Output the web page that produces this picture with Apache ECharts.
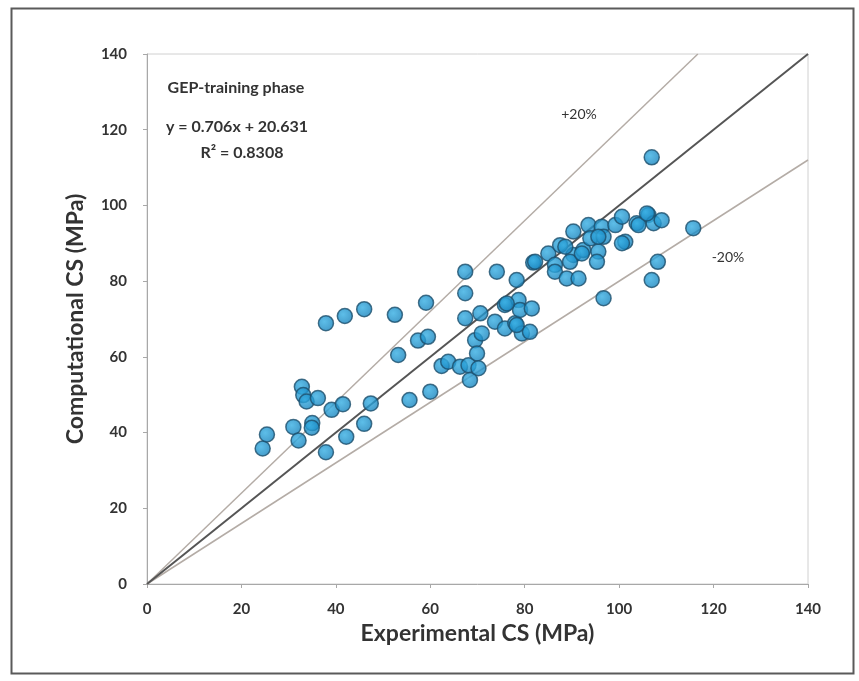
<!DOCTYPE html>
<html>
<head>
<meta charset="utf-8">
<script src="https://cdn.jsdelivr.net/npm/echarts@6/dist/echarts.min.js"></script>
<style>
html,body{margin:0;padding:0;background:#fff;}
#c{width:859px;height:681px;}
</style>
</head>
<body>
<div id="c"></div>
<script>
// Data
var experimentalCS = [24.5,25.4,31.0,32.1,32.8,33.1,33.8,36.2,35.0,34.9,37.9,39.1,41.5,42.2,46.0,47.4,
  37.9,41.9,46.0,52.5,53.2,55.6,57.4,59.5,59.1,60.0,62.4,63.8,66.3,67.4,67.4,67.4,68.1,68.4,69.5,69.9,
  70.2,70.6,70.9,73.7,74.1,75.8,75.8,78.0,78.3,78.7,79.0,79.4,81.1,81.5,81.8,76.2,78.3,
  85.0,87.5,90.3,90.3,92.4,93.5,93.9,96.3,96.7,99.2,100.6,101.3,103.7,106.2,107.3,109.0,
  86.4,86.4,88.9,91.4,89.6,92.1,95.6,95.3,100.6,96.7,106.9,108.2,106.9,115.7,88.6,95.6,82.2,104.1,105.9];
var computationalCS = [35.8,39.5,41.5,37.9,52.1,49.9,48.2,49.1,42.5,41.3,34.8,46.0,47.5,38.9,42.3,47.7,
  68.9,70.8,72.6,71.1,60.5,48.6,64.3,65.3,74.3,50.8,57.6,58.7,57.4,82.5,76.8,70.2,57.8,53.9,64.4,60.9,
  57.0,71.5,66.2,69.3,82.5,73.7,67.5,68.9,80.3,75.0,72.4,66.2,66.6,72.8,84.9,74.1,68.4,
  87.3,89.5,93.1,86.9,88.2,94.8,91.3,94.4,91.7,94.8,97.0,90.4,95.3,97.5,95.3,96.1,
  84.3,82.5,80.7,80.7,85.1,87.3,87.8,85.1,90.0,75.5,80.3,85.1,112.7,94.0,89.1,91.7,85.1,94.8,97.9];
var axisTicks = [0,20,40,60,80,100,120,140];
var lineRatios = [1.0, 1.2, 0.8];
var labels = {
  title: 'GEP-training phase',
  eq: 'y = 0.706x + 20.631',
  r2: 'R² = 0.8308',
  plus: '+20%',
  minus: '-20%',
  xName: 'Experimental CS (MPa)',
  yName: 'Computational CS (MPa)'
};

var axisMax = axisTicks[axisTicks.length - 1];
var points = experimentalCS.map(function (x, i) { return [x, computationalCS[i]]; });
function ratioLine(r) {
  var xEnd = Math.min(axisMax, axisMax / r);
  return [[0, 0], [xEnd, xEnd * r]];
}

var chart = echarts.init(document.getElementById('c'), null, {renderer: 'canvas'});
var font = 'Lato, "Open Sans", "DejaVu Sans", sans-serif';
var axisCommon = {
  type: 'value', min: 0, max: axisMax, interval: 20,
  splitLine: {show: false},
  axisLine: {show: true, lineStyle: {color: '#a8a8a8', width: 1}},
  axisTick: {show: true, inside: false, length: 4, lineStyle: {color: '#a8a8a8'}},
  axisLabel: {color: '#333', fontSize: 15, fontWeight: 'bold', fontFamily: font},
  nameLocation: 'middle',
  nameTextStyle: {color: '#333', fontSize: 23, fontWeight: 'bold', fontFamily: font}
};

chart.setOption({
  animation: false,
  backgroundColor: '#fff',
  grid: {left: 147, right: 51, top: 54, bottom: 97, show: true, borderColor: '#d0d0d0', borderWidth: 1},
  xAxis: Object.assign({}, axisCommon, {name: labels.xName, nameGap: 31,
    axisLabel: Object.assign({}, axisCommon.axisLabel, {margin: 18})}),
  yAxis: Object.assign({}, axisCommon, {name: labels.yName, nameGap: 60,
    axisLabel: Object.assign({}, axisCommon.axisLabel, {margin: 20})}),
  graphic: [
    {type: 'rect', left: 9, top: 6, shape: {width: 842, height: 665},
      style: {fill: 'none', stroke: '#5a5a5a', lineWidth: 2}, silent: true, z: 100},
    {type: 'text', x: 236, y: 88, style: {text: labels.title, fill: '#333', font: 'bold 16px ' + font, textAlign: 'center', textVerticalAlign: 'middle'}},
    {type: 'text', x: 237, y: 127, style: {text: labels.eq, fill: '#333', font: 'bold 16px ' + font, textAlign: 'center', textVerticalAlign: 'middle'}},
    {type: 'text', x: 242, y: 153, style: {text: labels.r2, fill: '#333', font: 'bold 16px ' + font, textAlign: 'center', textVerticalAlign: 'middle'}},
    {type: 'text', x: 579, y: 114, style: {text: labels.plus, fill: '#333', font: '14px ' + font, textAlign: 'center', textVerticalAlign: 'middle'}},
    {type: 'text', x: 728, y: 257, style: {text: labels.minus, fill: '#333', font: '14px ' + font, textAlign: 'center', textVerticalAlign: 'middle'}}
  ],
  series: [
    {type: 'line', data: ratioLine(lineRatios[1]), symbol: 'none', lineStyle: {color: '#b4aca6', width: 1.5}, z: 2},
    {type: 'line', data: ratioLine(lineRatios[2]), symbol: 'none', lineStyle: {color: '#b4aca6', width: 1.5}, z: 2},
    {type: 'line', data: ratioLine(lineRatios[0]), symbol: 'none', lineStyle: {color: '#555', width: 2}, z: 3},
    {type: 'scatter', data: points, symbol: 'circle', symbolSize: 15, z: 5,
      itemStyle: {
        color: {type: 'radial', x: 0.4, y: 0.4, r: 0.6,
          colorStops: [{offset: 0, color: '#35aee3'}, {offset: 1, color: '#1683bd'}]},
        borderColor: '#1d4f6b', borderWidth: 1.5
      }}
  ]
});
</script>
</body>
</html>
